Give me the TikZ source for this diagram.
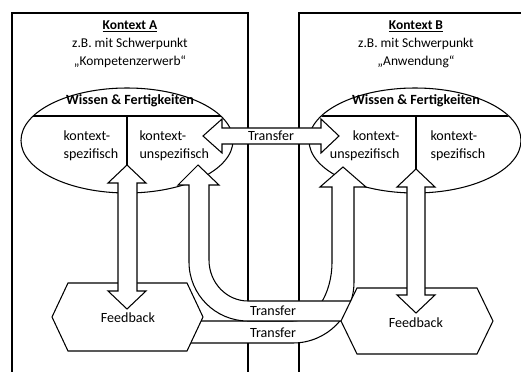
\documentclass[tikz,border=0pt]{standalone}
\usepackage{fontspec}
\setmainfont{Carlito}
\usepackage{tikz}
\usetikzlibrary{shapes.geometric}
\usetikzlibrary{positioning}

\begin{document}
\begin{tikzpicture}[x=0.03cm, y=-0.03cm, line width=0.9pt, line join=miter,
	font=\fontsize{12}{15.3}\selectfont]
	\useasboundingbox (0,0) rectangle (521,372);

	% Rahmen der beiden Kontexte
	\draw (12,372) -- (12,13) -- (248,13) -- (248,372);
	\draw (299,372) -- (299,13) -- (521,13);

	\begin{scope}[every node/.style={align=center, inner sep=0pt,
	              font=\fontsize{11.5}{15.3}\selectfont}]
		\node (kA) at (130,44) {\underline{\textbf{Kontext A}}\\z.B. mit Schwerpunkt\\„Kompetenzerwerb“};
		\node (kB) at (416,44) {\underline{\textbf{Kontext B}}\\z.B. mit Schwerpunkt\\„Anwendung“};
	\end{scope}

	% Wissen & Fertigkeiten
	\begin{scope}[every node/.style={ellipse, draw, fill=white, inner sep=0pt,
	              minimum width=6.36cm, minimum height=3.15cm}]
		\node (wA) at (127,140.5) {};
		\node (wB) at (415,140.5) {};
	\end{scope}
	\begin{scope}
		\clip (127,140.5) ellipse [x radius=106, y radius=52.5];
		\draw (15,116) -- (240,116);
	\end{scope}
	\begin{scope}
		\clip (415,140.5) ellipse [x radius=105, y radius=52.5];
		\draw (305,116) -- (525,116);
	\end{scope}
	\draw (127,116) -- (127,170);
	\draw (416,116) -- (416,172);

	\begin{scope}[every node/.style={inner sep=0pt}]
		\node[font=\fontsize{12}{15.3}\bfseries] (wfA) at (130,101) {Wissen \& Fertigkeiten};
		\node[font=\fontsize{12}{15.3}\bfseries] (wfB) at (416,101) {Wissen \& Fertigkeiten};
		\node[anchor=west, align=left] (spA) at (63,146) {kontext-\\spezifisch};
		\node[anchor=west, align=left] (unA) at (139,146) {kontext-\\unspezifisch};
		\node[anchor=east, align=right] (unB) at (400,146) {kontext-\\unspezifisch};
		\node[anchor=west, align=left] (spB) at (430,146) {kontext-\\spezifisch};
	\end{scope}

	\begin{scope}[pfeil/.style={draw, fill=white},
	              sechseck/.style={draw, fill=white}]
		% Transfer von A nach B (unten)
		\path[pfeil] (343,167) -- (366,187) -- (354,187) -- (354,282)
			arc[start angle=0, end angle=-90, radius=1.83cm] -- (190,343) -- (190,321)
			-- (293,321) arc[start angle=-90, end angle=0, x radius=1.17cm, y radius=1.77cm]
			-- (332,187) -- (320,187) -- cycle;
		% Transfer von B nach A
		\path[pfeil] (198,165) -- (219,185) -- (209,185) -- (209,260)
			arc[start angle=180, end angle=270, x radius=1.17cm, y radius=1.23cm] -- (355,301) -- (355,321)
			-- (248,321) arc[start angle=270, end angle=180, radius=1.77cm]
			-- (189,185) -- (178,185) -- cycle;

		% Feedback
		\path[sechseck] (52,317) -- (68,283) -- (187,283) -- (203,317) -- (187,351) -- (68,351) -- cycle;
		\path[sechseck] (341,321) -- (357,288) -- (477,288) -- (493,321) -- (477,354) -- (357,354) -- cycle;

		\path[pfeil] (127,165) -- (146,183) -- (137,183) -- (137,291) -- (146,291) -- (127,309)
			-- (108,291) -- (118,291) -- (118,183) -- (108,183) -- cycle;
		\path[pfeil] (416,169) -- (435,187) -- (425,187) -- (425,295) -- (435,295) -- (416,313)
			-- (397,295) -- (407,295) -- (407,187) -- (397,187) -- cycle;

		\path[pfeil] (203,136) -- (222,119) -- (222,128) -- (321,128) -- (321,119) -- (339,136)
			-- (321,153) -- (321,144) -- (222,144) -- (222,153) -- cycle;
	\end{scope}

	\begin{scope}[every node/.style={inner sep=0pt}]
		\node (fbA) at (128,318) {Feedback};
		\node (fbB) at (416,323) {Feedback};
		\node (t1) at (271,136) {Transfer};
		\node (t2) at (273,311) {Transfer};
		\node (t3) at (273,333) {Transfer};
	\end{scope}
\end{tikzpicture}
\end{document}
